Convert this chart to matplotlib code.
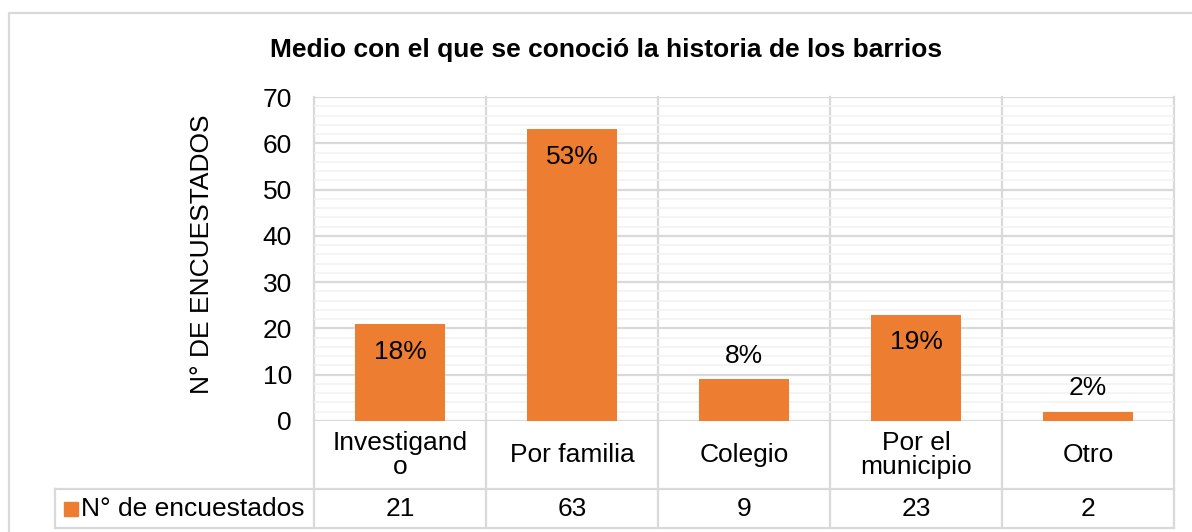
import matplotlib
matplotlib.use('Agg')
import matplotlib.pyplot as plt
from matplotlib.lines import Line2D
from matplotlib.ticker import MultipleLocator

# datos
categorias = ['Investigand\no', 'Por familia', 'Colegio', 'Por el\nmunicipio', 'Otro']
encuestados = [21, 63, 9, 23, 2]
porcentajes = ['18%', '53%', '8%', '19%', '2%']
serie = 'N° de encuestados'
titulo = 'Medio con el que se conoció la historia de los barrios'
eje_y = 'N° DE ENCUESTADOS'

naranja = '#ED7D31'
gris = '#d9d9d9'
gris_menor = '#f2f2f2'

plt.rcParams['font.family'] = ['Liberation Sans', 'DejaVu Sans']
plt.rcParams['font.size'] = 19

W, H = 1192, 532
fig = plt.figure(figsize=(W / 100, H / 100), dpi=100)

# area del grafico en pixeles
x0, x1, ytop, y0 = 314, 1174, 97, 421
ax = fig.add_axes([x0 / W, (H - y0) / H, (x1 - x0) / W, (y0 - ytop) / H])

n = len(categorias)
xs = list(range(n))
ax.bar(xs, encuestados, width=0.52, color=naranja, zorder=3)
ax.set_xlim(-0.5, n - 0.5)
ax.set_ylim(0, 70)
ax.yaxis.set_major_locator(MultipleLocator(10))
ax.yaxis.set_minor_locator(MultipleLocator(2))
ax.grid(axis='y', which='minor', color=gris_menor, lw=1.2, zorder=0)
ax.grid(axis='y', which='major', color=gris, lw=1.6, zorder=1)
for k in range(n + 1):
    ax.axvline(k - 0.5, color=gris, lw=1.6, zorder=1, clip_on=False)
for s in ax.spines.values():
    s.set_visible(False)
ax.set_xticks([])
ax.tick_params(axis='y', which='both', length=0, pad=16, labelcolor='black')

for x, v, p in zip(xs, encuestados, porcentajes):
    if v > 15:
        ax.annotate(p, (x, v), xytext=(0, -20), textcoords='offset points',
                    ha='center', va='center', zorder=4)
    else:
        ax.annotate(p, (x, v), xytext=(0, 17), textcoords='offset points',
                    ha='center', va='center', zorder=4)

# tabla de datos debajo del grafico
tl, tb = 55, 528
celda = (x1 - x0) / n
tab = fig.add_axes([tl / W, (H - tb) / H, (x1 - tl) / W, (tb - y0) / H])
tab.set_xlim(-0.5 - (x0 - tl) / celda, n - 0.5)
tab.set_ylim(0, tb - y0)
tab.axis('off')
fila = tb - 489
tab.plot([tab.get_xlim()[0], n - 0.5], [fila, fila], color=gris, lw=1.6, clip_on=False)
tab.plot([tab.get_xlim()[0], n - 0.5], [0, 0], color=gris, lw=1.6, clip_on=False)
tab.plot([tab.get_xlim()[0]] * 2, [0, fila], color=gris, lw=1.6, clip_on=False)
for k in range(n + 1):
    tab.plot([k - 0.5, k - 0.5], [0, tb - y0], color=gris, lw=1.6, clip_on=False)
for x, c, v in zip(xs, categorias, encuestados):
    tab.text(x, (tb - y0 + fila) / 2, c, ha='center', va='center', linespacing=0.95)
    tab.text(x, fila / 2, str(v), ha='center', va='center')
tab.plot([-0.5 - (x0 - 70.5) / celda], [fila / 2], marker='s', ms=9.5,
         color=naranja, clip_on=False)
tab.text(-0.5 - (x0 - 81) / celda, fila / 2, serie, ha='left', va='center')

fig.text(202 / W, (H - 254) / H, eje_y, rotation=90, ha='center', va='center')
fig.text(606 / W, (H - 50) / H, titulo, ha='center', va='center', fontweight='bold')

# borde exterior
fig.add_artist(Line2D([9 / W, 9 / W, 1], [0, (H - 13) / H, (H - 13) / H],
                      transform=fig.transFigure, color=gris, lw=1.6))

fig.savefig('out.png', dpi=100)
